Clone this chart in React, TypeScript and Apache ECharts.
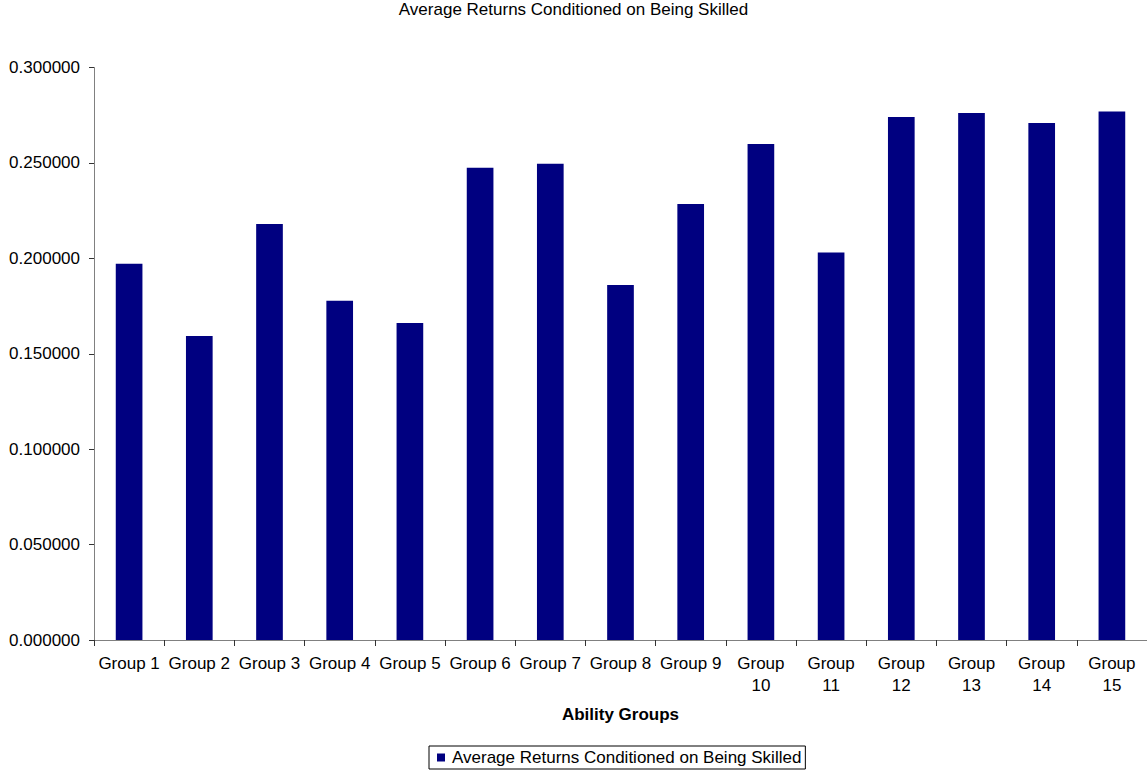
import React, { useEffect, useRef } from "react";
import * as echarts from "echarts";

const categories = [
  "Group 1", "Group 2", "Group 3", "Group 4", "Group 5",
  "Group 6", "Group 7", "Group 8", "Group 9", "Group 10",
  "Group 11", "Group 12", "Group 13", "Group 14", "Group 15",
];
const values = [
  0.1972, 0.1593, 0.2180, 0.1778, 0.1661,
  0.2475, 0.2495, 0.1860, 0.2285, 0.2599,
  0.2030, 0.2741, 0.2762, 0.2709, 0.2770,
];
const seriesName = "Average Returns Conditioned on Being Skilled";
const chartTitle = "Average Returns Conditioned on Being Skilled";
const xAxisTitle = "Ability Groups";

const FONT = "'Liberation Sans', Arial, sans-serif";

export default function App() {
  const ref = useRef<HTMLDivElement>(null);
  useEffect(() => {
    if (!ref.current) return;
    const chart = echarts.init(ref.current, undefined, { renderer: "svg" });
    chart.setOption({
      animation: false,
      backgroundColor: "#ffffff",
      textStyle: { fontFamily: FONT },
      title: {
        text: chartTitle,
        left: "center",
        top: -4,
        textStyle: { fontFamily: FONT, fontSize: 17, fontWeight: "normal", color: "#000" },
      },
      grid: { left: 94, width: 1056, top: 67.5, height: 572.5, containLabel: false },
      legend: {
        left: 429,
        top: 746,
        data: [seriesName],
        icon: "rect",
        itemWidth: 8,
        itemHeight: 8,
        itemGap: 4,
        borderColor: "#000",
        borderWidth: 1,
        borderRadius: 0,
        padding: [3, 4, 3, 8],
        textStyle: { fontFamily: FONT, fontSize: 17, color: "#000", padding: [0, 0, 0, 2] },
      },
      xAxis: {
        type: "category",
        data: categories,
        name: xAxisTitle,
        nameLocation: "middle",
        nameGap: 66,
        nameTextStyle: { fontFamily: FONT, fontSize: 17, fontWeight: "bold", color: "#000" },
        axisLine: { lineStyle: { color: "#808080", width: 1 } },
        axisTick: { show: true, length: 6, lineStyle: { color: "#333" } },
        axisLabel: {
          interval: 0,
          margin: 12,
          fontFamily: FONT,
          fontSize: 17,
          color: "#000",
          lineHeight: 22,
          formatter: (v: string) => (v.length > 7 ? v.replace(" ", "\n") : v),
        },
        splitLine: { show: false },
      },
      yAxis: {
        type: "value",
        min: 0,
        max: 0.3,
        interval: 0.05,
        axisLine: { show: true, lineStyle: { color: "#808080", width: 1 } },
        axisTick: { show: true, length: 5, lineStyle: { color: "#333" } },
        axisLabel: {
          margin: 14,
          fontFamily: FONT,
          fontSize: 17,
          color: "#000",
          formatter: (v: number) => v.toFixed(6),
        },
        splitLine: { show: false },
      },
      series: [
        {
          name: seriesName,
          type: "bar",
          data: values,
          barWidth: "38%",
          itemStyle: { color: "#000080" },
        },
      ],
    });
    return () => chart.dispose();
  }, []);
  return (
    <div
      ref={ref}
      style={{ position: "fixed", left: 0, top: 0, width: 1147, height: 775 }}
    />
  );
}
